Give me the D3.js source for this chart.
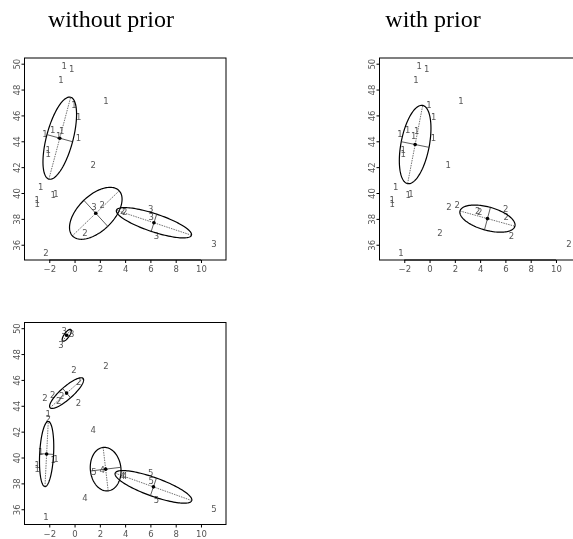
<!DOCTYPE html>
<html><head><meta charset="utf-8">
<script src="https://cdn.jsdelivr.net/npm/d3@7"></script>
<style>body{margin:0;background:#fff}svg{display:block;will-change:transform}</style>
</head><body>
<script>
// ---- data ----
const ptX = [-0.81,-0.23,-1.07,2.49,-0.05,0.33,-2.34,-1.73,-1.02,-1.25,0.30,-2.08,-2.08,1.48,-2.68,-1.68,-1.47,-2.95,-2.95,1.54,2.19,3.80,3.97,6.03,6.06,6.48,0.82,-2.26,11.02];
const ptY = [49.82,49.57,48.74,47.09,46.78,45.88,44.59,44.85,44.77,44.40,44.25,43.35,43.00,42.17,40.46,39.84,39.92,39.46,39.13,38.92,39.07,38.60,38.54,38.80,38.17,36.70,36.90,35.38,36.06];
const labWithout = ["1","1","1","1","1","1","1","1","1","1","1","1","1","2","1","1","1","1","1","3","2","2","2","3","3","3","2","2","3"];
const labWith    = ["1","1","1","1","1","1","1","1","1","1","1","1","1","1","1","1","1","1","1","2","2","2","2","2","2","2","2","1","2"];
const labBIC     = ["3","3","3","2","2","2","2","2","2","2","2","1","2","4","1","1","1","1","1","5","4","4","4","5","5","5","4","1","5"];
// ellipses: [centerX, centerY, semiMajor, semiMinor, angleDeg]
const ellWithout = [[-1.17,44.24,3.28,1.05,74.8],[1.68,38.43,2.54,1.38,43.2],[6.28,37.70,3.12,0.70,-18.0]];
const ellWith    = [[-1.14,43.75,3.08,1.12,78.8],[4.58,38.02,2.25,0.90,-15.2]];
const ellBIC     = [[-2.21,40.27,2.52,0.55,87.0],[-0.63,44.98,1.73,0.48,40.8],[-0.62,49.45,0.55,0.20,54.0],[2.46,39.10,1.69,1.21,96.8],[6.24,37.73,3.21,0.72,-19.3]];
const xTicks = [-2,0,2,4,6,8,10];
const yTicks = [36,38,40,42,44,46,48,50];
const titles = ["without prior","with prior"];

const W=573,H=539;
const svg=d3.select("body").append("svg").attr("width",W).attr("height",H);

const tg=svg.append("g");
tg.append("text").attr("x",111).attr("y",27).attr("text-anchor","middle")
  .style("font-family","Liberation Serif, Times New Roman, serif").style("font-size","24px").attr("fill","#000").text(titles[0]);
tg.append("text").attr("x",433).attr("y",27).attr("text-anchor","middle")
  .style("font-family","Liberation Serif, Times New Roman, serif").style("font-size","24px").attr("fill","#000").text(titles[1]);

function panel(left, top, labels, ells){
  const pw=201.5, ph=202;
  const x=d3.scaleLinear().domain([-3.96,11.98]).range([0,pw]);
  const y=d3.scaleLinear().domain([34.82,50.44]).range([ph,0]);
  const g=svg.append("g").attr("transform",`translate(${left},${top})`);
  const font="DejaVu Sans, sans-serif";
  // axes
  const ax=g.append("g").attr("transform",`translate(0,${ph})`)
    .call(d3.axisBottom(x).tickValues(xTicks).tickSize(3).tickPadding(3).tickFormat(d=>d<0?"\u2212"+(-d):d));
  ax.select(".domain").remove();
  ax.selectAll("text").style("font-family",font).style("font-size","8.5px").attr("fill","#555");
  ax.append("line").attr("x1",x(-2)).attr("x2",x(10)).attr("stroke","#000");
  const ay=g.append("g").call(d3.axisLeft(y).tickValues(yTicks).tickSize(3));
  ay.select(".domain").remove();
  ay.selectAll("text").attr("transform","rotate(-90)").attr("x",0).attr("y",-4.5).attr("dy",0)
    .attr("text-anchor","middle").style("font-family",font).style("font-size","8.5px").attr("fill","#555");
  ay.append("line").attr("y1",y(36)).attr("y2",y(50)).attr("stroke","#000");
  g.append("rect").attr("x",0).attr("y",0).attr("width",pw).attr("height",ph)
    .attr("fill","none").attr("stroke","#000").attr("stroke-width",1);
  // labels
  g.append("g").selectAll("text.pt").data(labels).join("text").attr("class","pt")
    .attr("x",(d,i)=>x(ptX[i])).attr("y",(d,i)=>y(ptY[i])).attr("dy","0.36em")
    .attr("text-anchor","middle").style("font-family",font).style("font-size","8.5px")
    .attr("fill","#555").text(d=>d);
  // ellipses
  const line=d3.line().x(d=>x(d[0])).y(d=>y(d[1])).curve(d3.curveLinearClosed);
  ells.forEach(e=>{
    const [cx,cy,a,b,ang]=e; const th=ang*Math.PI/180;
    const c=Math.cos(th), s=Math.sin(th);
    const pts=d3.range(0,2*Math.PI,Math.PI/60).map(t=>[cx+a*c*Math.cos(t)-b*s*Math.sin(t), cy+a*s*Math.cos(t)+b*c*Math.sin(t)]);
    g.append("path").attr("d",line(pts)).attr("fill","none").attr("stroke","#000").attr("stroke-width",1.2);
    g.append("line").attr("x1",x(cx-a*c)).attr("y1",y(cy-a*s)).attr("x2",x(cx+a*c)).attr("y2",y(cy+a*s))
      .attr("stroke","#333").attr("stroke-width",0.7).attr("stroke-dasharray","1.5,1");
    g.append("line").attr("x1",x(cx+b*s)).attr("y1",y(cy-b*c)).attr("x2",x(cx-b*s)).attr("y2",y(cy+b*c))
      .attr("stroke","#333").attr("stroke-width",0.8);
    g.append("circle").attr("cx",x(cx)).attr("cy",y(cy)).attr("r",1.8).attr("fill","#000");
  });
}
panel(24.5,58,labWithout,ellWithout);
panel(379.5,58,labWith,ellWith);
panel(24.5,322.5,labBIC,ellBIC);
</script>
</body></html>
